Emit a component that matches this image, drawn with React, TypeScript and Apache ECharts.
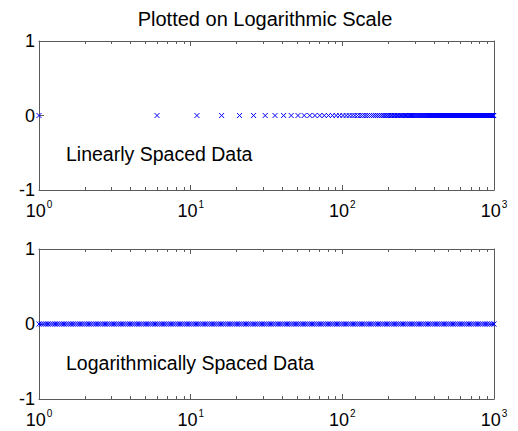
import React, { useEffect, useRef } from "react";
import * as echarts from "echarts";

const titleText = "Plotted on Logarithmic Scale";
const topLabel = "Linearly Spaced Data";
const bottomLabel = "Logarithmically Spaced Data";

const xMin = 1;
const xMax = 1000;
const yMin = -1;
const yMax = 1;
const dataY = 0;

const xTickExponents: Record<string, string> = { "1": "0", "10": "1", "100": "2", "1000": "3" };

const minorTicks = [2, 3, 4, 5, 6, 7, 8, 9, 20, 30, 40, 50, 60, 70, 80, 90, 200, 300, 400, 500, 600, 700, 800, 900];

const linearX = [
  1, 6, 11, 16, 21, 26, 31, 36, 41, 46, 51, 56, 61, 66, 71, 76, 81, 86, 91, 96,
  101, 106, 111, 116, 121, 126, 131, 136, 141, 146, 151, 156, 161, 166, 171, 176, 181, 186, 191, 196,
  201, 206, 211, 216, 221, 226, 231, 236, 241, 246, 251, 256, 261, 266, 271, 276, 281, 286, 291, 296,
  301, 306, 311, 316, 321, 326, 331, 336, 341, 346, 351, 356, 361, 366, 371, 376, 381, 386, 391, 396,
  401, 406, 411, 416, 421, 426, 431, 436, 441, 446, 451, 456, 461, 466, 471, 476, 481, 486, 491, 496,
  501, 506, 511, 516, 521, 526, 531, 536, 541, 546, 551, 556, 561, 566, 571, 576, 581, 586, 591, 596,
  601, 606, 611, 616, 621, 626, 631, 636, 641, 646, 651, 656, 661, 666, 671, 676, 681, 686, 691, 696,
  701, 706, 711, 716, 721, 726, 731, 736, 741, 746, 751, 756, 761, 766, 771, 776, 781, 786, 791, 796,
  801, 806, 811, 816, 821, 826, 831, 836, 841, 846, 851, 856, 861, 866, 871, 876, 881, 886, 891, 896,
  901, 906, 911, 916, 921, 926, 931, 936, 941, 946, 951, 956, 961, 966, 971, 976, 981, 986, 991, 996,
];

const logX = [
  1, 1.035, 1.072, 1.109, 1.148, 1.189, 1.23, 1.274, 1.318, 1.365, 1.413, 1.462, 1.514, 1.567, 1.622, 1.679, 1.738, 1.799, 1.862, 1.928,
  1.995, 2.065, 2.138, 2.213, 2.291, 2.371, 2.455, 2.541, 2.63, 2.723, 2.818, 2.917, 3.02, 3.126, 3.236, 3.35, 3.467, 3.589, 3.715, 3.846,
  3.981, 4.121, 4.266, 4.416, 4.571, 4.732, 4.898, 5.07, 5.248, 5.433, 5.623, 5.821, 6.026, 6.237, 6.457, 6.683, 6.918, 7.161, 7.413, 7.674,
  7.943, 8.222, 8.511, 8.81, 9.12, 9.441, 9.772, 10.12, 10.47, 10.84, 11.22, 11.61, 12.02, 12.45, 12.88, 13.34, 13.8, 14.29, 14.79, 15.31,
  15.85, 16.41, 16.98, 17.58, 18.2, 18.84, 19.5, 20.18, 20.89, 21.63, 22.39, 23.17, 23.99, 24.83, 25.7, 26.61, 27.54, 28.51, 29.51, 30.55,
  31.62, 32.73, 33.88, 35.08, 36.31, 37.58, 38.91, 40.27, 41.69, 43.15, 44.67, 46.24, 47.86, 49.55, 51.29, 53.09, 54.95, 56.89, 58.88, 60.95,
  63.1, 65.31, 67.61, 69.98, 72.44, 74.99, 77.62, 80.35, 83.18, 86.1, 89.13, 92.26, 95.5, 98.86, 102.3, 105.9, 109.6, 113.5, 117.5, 121.6,
  125.9, 130.3, 134.9, 139.6, 144.5, 149.6, 154.9, 160.3, 166.0, 171.8, 177.8, 184.1, 190.5, 197.2, 204.2, 211.3, 218.8, 226.5, 234.4, 242.7,
  251.2, 260.0, 269.2, 278.6, 288.4, 298.5, 309.0, 319.9, 331.1, 342.8, 354.8, 367.3, 380.2, 393.6, 407.4, 421.7, 436.5, 451.9, 467.7, 484.2,
  501.2, 518.8, 537.0, 555.9, 575.4, 595.7, 616.6, 638.3, 660.7, 683.9, 707.9, 732.8, 758.6, 785.2, 812.8, 841.4, 871.0, 901.6, 933.3, 966.1,
  1000,
];

const FONT = "'Liberation Sans', Arial, Helvetica, sans-serif";
const AXIS_COLOR = "#5a5a5a";
const MARKER_COLOR = "#0000ff";
const X_MARKER = "path://M0 0L10 10M10 0L0 10";

const grids = [
  { left: 39, top: 41, width: 455, height: 149 },
  { left: 39, top: 249, width: 455, height: 150 },
];

function expOf(v: number): string {
  const key = String(Math.round(v));
  return xTickExponents[key] ?? String(Math.round(Math.log10(v)));
}

function makeXAxes(gridIndex: number) {
  const common = {
    type: "log" as const,
    logBase: 10,
    min: xMin,
    max: xMax,
    gridIndex,
    splitLine: { show: false },
    axisLine: { show: true, onZero: false, lineStyle: { color: AXIS_COLOR, width: 1 } },
    axisTick: { show: true, inside: true, length: 5, lineStyle: { color: AXIS_COLOR } },
  };
  return [
    {
      ...common,
      position: "bottom",
      axisLabel: {
        show: true,
        margin: 9,
        formatter: (v: number) => `{b|10}{e|${expOf(v)}}`,
        rich: {
          b: { fontSize: 18, fontFamily: FONT, color: "#000", verticalAlign: "bottom" },
          e: { fontSize: 10, fontFamily: FONT, color: "#000", verticalAlign: "top", padding: [0, 0, 11, 1] },
        },
      },
    },
    { ...common, position: "top", axisLabel: { show: false } },
  ];
}

function makeYAxes(gridIndex: number) {
  const common = {
    type: "value" as const,
    min: yMin,
    max: yMax,
    interval: 1,
    gridIndex,
    splitLine: { show: false },
    axisLine: { show: true, onZero: false, lineStyle: { color: AXIS_COLOR, width: 1 } },
    axisTick: { show: true, inside: true, length: 5, lineStyle: { color: AXIS_COLOR } },
  };
  return [
    {
      ...common,
      position: "left",
      axisLabel: { show: true, margin: 4, fontSize: 18, fontFamily: FONT, color: "#000" },
    },
    { ...common, position: "right", axisLabel: { show: false } },
  ];
}

function minorTickSeries(axisIndex: number) {
  return {
    type: "custom",
    xAxisIndex: axisIndex,
    yAxisIndex: axisIndex,
    silent: true,
    clip: false,
    z: 5,
    data: minorTicks.map((v) => [v, dataY]),
    encode: { x: 0, y: 1 },
    renderItem: (_params: any, api: any) => {
      const v = api.value(0);
      const b = api.coord([v, yMin]);
      const t = api.coord([v, yMax]);
      const x = Math.round(b[0]) + 0.5;
      const style = { stroke: AXIS_COLOR, lineWidth: 1 };
      return {
        type: "group",
        children: [
          { type: "line", shape: { x1: x, y1: b[1], x2: x, y2: b[1] - 3 }, style },
          { type: "line", shape: { x1: x, y1: t[1], x2: x, y2: t[1] + 3 }, style },
        ],
      };
    },
  };
}

function scatterSeries(xs: number[], axisIndex: number) {
  return {
    type: "scatter",
    xAxisIndex: axisIndex,
    yAxisIndex: axisIndex,
    symbol: X_MARKER,
    symbolSize: 5,
    clip: false,
    z: 4,
    itemStyle: { color: "rgba(0,0,0,0)", borderColor: MARKER_COLOR, borderWidth: 1, opacity: 1 },
    data: xs.map((x) => [x, dataY]),
  };
}

export default function App() {
  const ref = useRef<HTMLDivElement>(null);
  useEffect(() => {
    if (!ref.current) return;
    const chart = echarts.init(ref.current, undefined, { renderer: "svg" });
    chart.setOption({
      animation: false,
      backgroundColor: "#ffffff",
      textStyle: { fontFamily: FONT },
      grid: grids,
      xAxis: [...makeXAxes(0), ...makeXAxes(1)],
      yAxis: [...makeYAxes(0), ...makeYAxes(1)],
      series: [
        scatterSeries(linearX, 0),
        scatterSeries(logX, 2),
        minorTickSeries(0),
        minorTickSeries(2),
      ],
      graphic: [
        {
          type: "text",
          x: 265,
          y: 19,
          style: { text: titleText, fontSize: 20, fontFamily: FONT, fill: "#000", align: "center", verticalAlign: "middle" },
        },
        {
          type: "text",
          x: 66,
          y: 154,
          style: { text: topLabel, fontSize: 19.5, fontFamily: FONT, fill: "#000", align: "left", verticalAlign: "middle" },
        },
        {
          type: "text",
          x: 66,
          y: 363,
          style: { text: bottomLabel, fontSize: 19.5, fontFamily: FONT, fill: "#000", align: "left", verticalAlign: "middle" },
        },
      ],
    });
    return () => chart.dispose();
  }, []);
  return (
    <div
      ref={ref}
      style={{ position: "absolute", left: 0, top: 0, width: 518, height: 431, background: "#fff" }}
    />
  );
}
